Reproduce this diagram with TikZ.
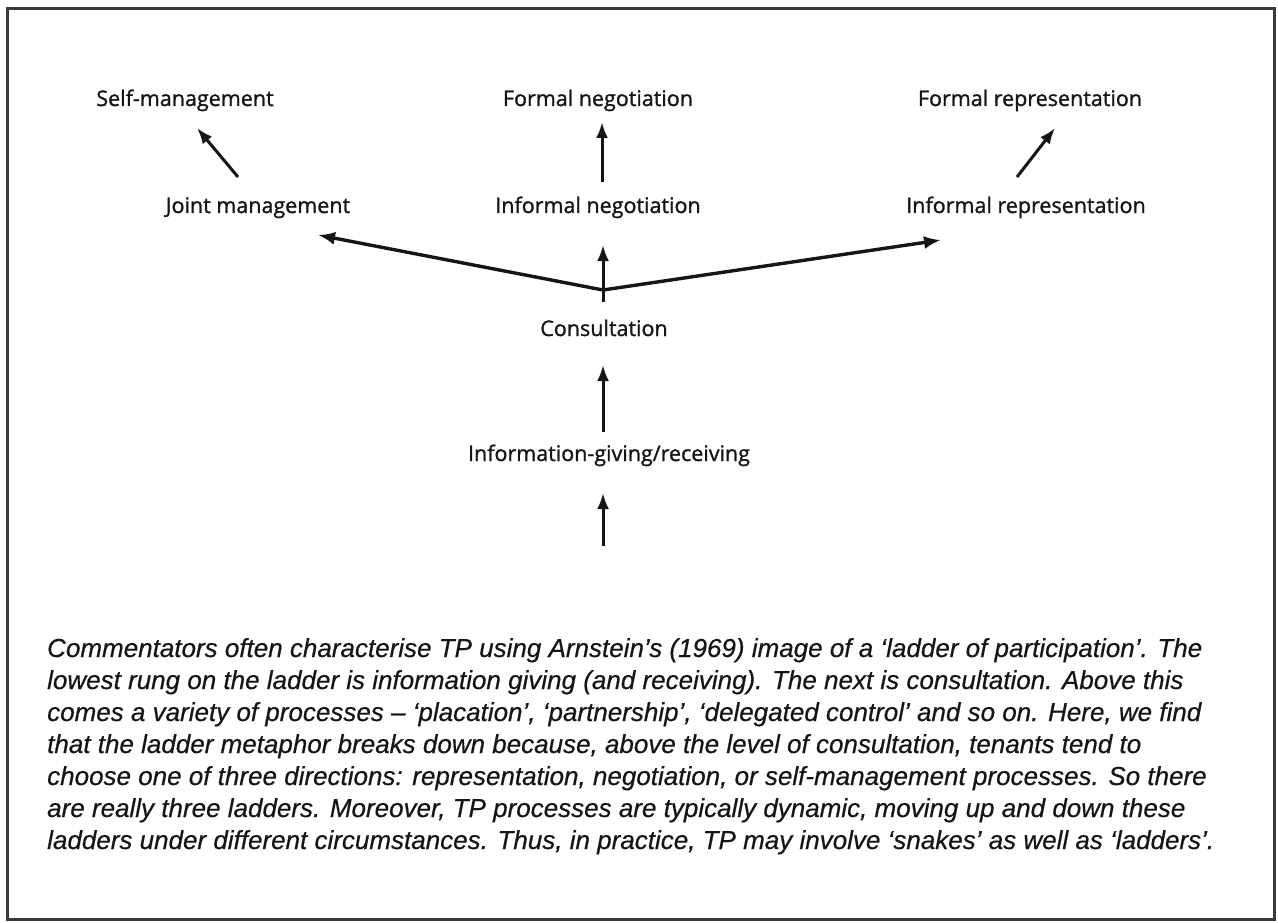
\documentclass[tikz,border=0pt]{standalone}
\usepackage{fontspec}
\setmainfont{Open Sans}[FakeBold=1.5]
\newfontfamily\lblfont{Open Sans}[FakeBold=1.2]
\newfontfamily\capfont{Liberation Sans}[ItalicFeatures={FakeBold=0.5}]
\usetikzlibrary{arrows.meta}
\definecolor{ink}{HTML}{151515}
\definecolor{framec}{HTML}{3A3A3A}
\tikzset{
  lbl/.style={anchor=base, inner sep=0pt, text=ink, font=\lblfont\fontsize{21.5}{25}\selectfont},
  capline/.style={anchor=base west, inner sep=0pt, text=ink, font=\capfont\itshape\fontsize{26}{32}\selectfont},
  arr/.style={draw=ink, line width=3pt, -{Latex[length=16pt,width=12pt]}},
  varr/.style={draw=ink, line width=3.4pt, -{Latex[length=17pt,width=13pt]}},
}
\begin{document}
\begin{tikzpicture}[x=1pt,y=-1pt]
\useasboundingbox (0,0) rectangle (1278,923);
\fill[white] (0,0) rectangle (1278,923);
\draw[framec, line width=3pt] (7,9) rectangle (1274,919);

% labels
\node[lbl] (self) at (185,106) {Self-management};
\node[lbl] (fneg) at (598,106) {Formal negotiation};
\node[lbl] (frep) at (1030,106) {Formal representation};
\node[lbl] (joint) at (258,213) {Joint management};
\node[lbl] (ineg) at (598,213) {Informal negotiation};
\node[lbl] (irep) at (1026,213) {Informal representation};
\node[lbl] (cons) at (604,336) {Consultation};
\node[lbl] (info) at (609,461) {Information-giving/receiving};

% arrow end points
\coordinate (a1s) at (238,177); \coordinate (a1e) at (197,128);
\coordinate (a2s) at (602,182); \coordinate (a2e) at (602,122);
\coordinate (a3s) at (1017,177); \coordinate (a3e) at (1055,128);
\coordinate (j) at (603,290);
\coordinate (jb) at (603,302);
\coordinate (vl) at (318,235);
\coordinate (vr) at (941,240);
\coordinate (vm) at (603,245);
\coordinate (a5s) at (603,432); \coordinate (a5e) at (603,365);
\coordinate (a6s) at (603,546); \coordinate (a6e) at (603,493);

\draw[arr] (a1s) -- (a1e);
\draw[arr] (a2s) -- (a2e);
\draw[arr] (a3s) -- (a3e);
\draw[varr] (j) -- (vl);
\draw[varr] (j) -- (vr);
\draw[arr] (jb) -- (vm);
\draw[arr] (a5s) -- (a5e);
\draw[arr] (a6s) -- (a6e);

% caption
\node[capline] (c1) at (47,657) {Commentators often characterise TP using Arnstein’s (1969) image of a ‘ladder of participation’. The};
\node[capline] (c2) at (47,689) {lowest rung on the ladder is information giving (and receiving). The next is consultation. Above this};
\node[capline] (c3) at (47,721) {comes a variety of processes – ‘placation’, ‘partnership’, ‘delegated control’ and so on. Here, we find};
\node[capline] (c4) at (47,753) {that the ladder metaphor breaks down because, above the level of consultation, tenants tend to};
\node[capline] (c5) at (47,785) {choose one of three directions: representation, negotiation, or self-management processes. So there};
\node[capline] (c6) at (47,817) {are really three ladders. Moreover, TP processes are typically dynamic, moving up and down these};
\node[capline] (c7) at (47,849) {ladders under different circumstances. Thus, in practice, TP may involve ‘snakes’ as well as ‘ladders’.};
\end{tikzpicture}
\end{document}
